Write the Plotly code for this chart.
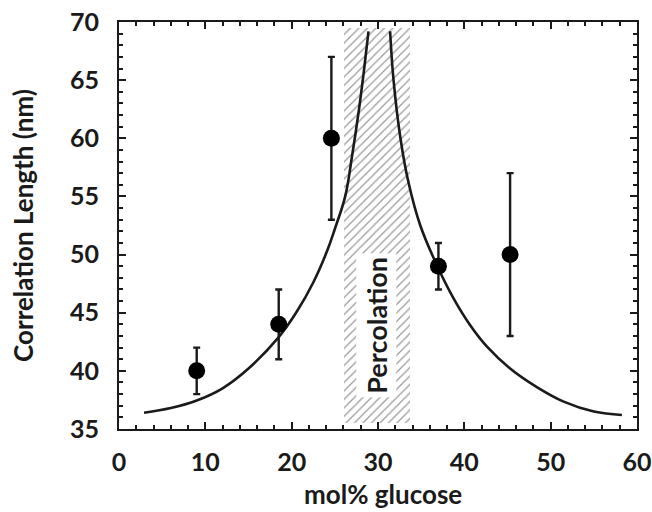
import plotly.graph_objects as go

# ---- data ----
glucose = [9.0, 18.5, 24.6, 37.0, 45.3]
corr_len = [40, 44, 60, 49, 50]
err = [2, 3, 7, 2, 7]

# fitted curve, left branch (below percolation)
fit_left_x = [2.9, 6.0, 9.0, 12.0, 15.0, 18.5, 20.6, 22.5, 24.1, 25.0, 26.2, 27.0, 27.8, 28.4, 28.9]
fit_left_y = [36.4, 36.8, 37.45, 38.5, 40.2, 42.9, 45.1, 47.6, 50.3, 52.2, 55.0, 58.5, 62.5, 66.0, 69.2]
# fitted curve, right branch (above percolation)
fit_right_x = [31.4, 31.8, 32.6, 33.5, 34.9, 37.0, 38.7, 40.7, 42.6, 45.3, 48.4, 51.5, 55.0, 58.25]
fit_right_y = [69.2, 65.0, 60.0, 56.3, 52.5, 48.8, 46.3, 43.9, 42.1, 40.2, 38.6, 37.35, 36.5, 36.2]

# percolation band
band_x = [26.1, 33.7]
band_y = [35.5, 69.5]
band_label = "Percolation"

x_ticks = [0, 10, 20, 30, 40, 50, 60]
y_ticks = [35, 40, 45, 50, 55, 60, 65, 70]
x_title = "mol% glucose"
y_title = "Correlation Length (nm)"

FONT = "Lato"
INK = "#1a1a1a"

fig = go.Figure()

# hatched band
fig.add_trace(go.Bar(
    x=[(band_x[0] + band_x[1]) / 2],
    y=[band_y[1] - band_y[0]],
    base=[band_y[0]],
    width=[band_x[1] - band_x[0]],
    marker=dict(
        color="white",
        line=dict(width=0),
        pattern=dict(shape="/", fgcolor="#333333", bgcolor="white", size=6, solidity=0.2),
    ),
    showlegend=False,
    hoverinfo="skip",
))

for fx, fy in [(fit_left_x, fit_left_y), (fit_right_x, fit_right_y)]:
    fig.add_trace(go.Scatter(
        x=fx, y=fy, mode="lines",
        line=dict(color=INK, width=2.6, shape="spline", smoothing=1.1),
        showlegend=False,
    ))

fig.add_trace(go.Scatter(
    x=glucose, y=corr_len, mode="markers",
    marker=dict(color="black", size=17),
    error_y=dict(type="data", array=err, visible=True, color=INK, thickness=2.4, width=3.5),
    showlegend=False,
))

fig.add_annotation(
    x=(band_x[0] + band_x[1]) / 2 - 0.1, y=43.9, xref="x", yref="y",
    text=band_label, textangle=-90, showarrow=False,
    font=dict(family=FONT, size=27, color=INK, weight="bold"),
    bgcolor="white", borderpad=3,
)

# x-axis title placed as paper annotation (below tick labels)
fig.add_annotation(
    x=0.51, y=-0.16, xref="paper", yref="paper",
    text=x_title, showarrow=False, xanchor="center", yanchor="middle",
    font=dict(family=FONT, size=26, color=INK, weight="bold"),
)

axis_common = dict(
    showline=True, linecolor=INK, linewidth=2, mirror="ticks",
    ticks="inside", ticklen=7, tickwidth=1.8, tickcolor=INK,
    showgrid=False, zeroline=False, automargin=False,
    tickfont=dict(family=FONT, size=25, color=INK, weight="bold"),
)

fig.update_xaxes(
    range=[0, 60], tickvals=x_ticks, ticktext=[str(v) for v in x_ticks],
    minor=dict(dtick=2, ticks="inside", ticklen=4, tickwidth=1.5, tickcolor=INK),
    ticklabelstandoff=10,
    **axis_common,
)
fig.update_yaxes(
    range=[35, 70], tickvals=y_ticks, ticktext=[str(v) for v in y_ticks],
    minor=dict(dtick=1, ticks="inside", ticklen=4, tickwidth=1.5, tickcolor=INK),
    title=dict(text=y_title, font=dict(family=FONT, size=26, color=INK, weight="bold"), standoff=29),
    ticklabelstandoff=13,
    **axis_common,
)

fig.update_layout(
    width=652, height=512,
    margin=dict(l=119, r=15, t=22, b=83),
    plot_bgcolor="white", paper_bgcolor="white",
    bargap=0,
)

fig.write_html("out.html")
